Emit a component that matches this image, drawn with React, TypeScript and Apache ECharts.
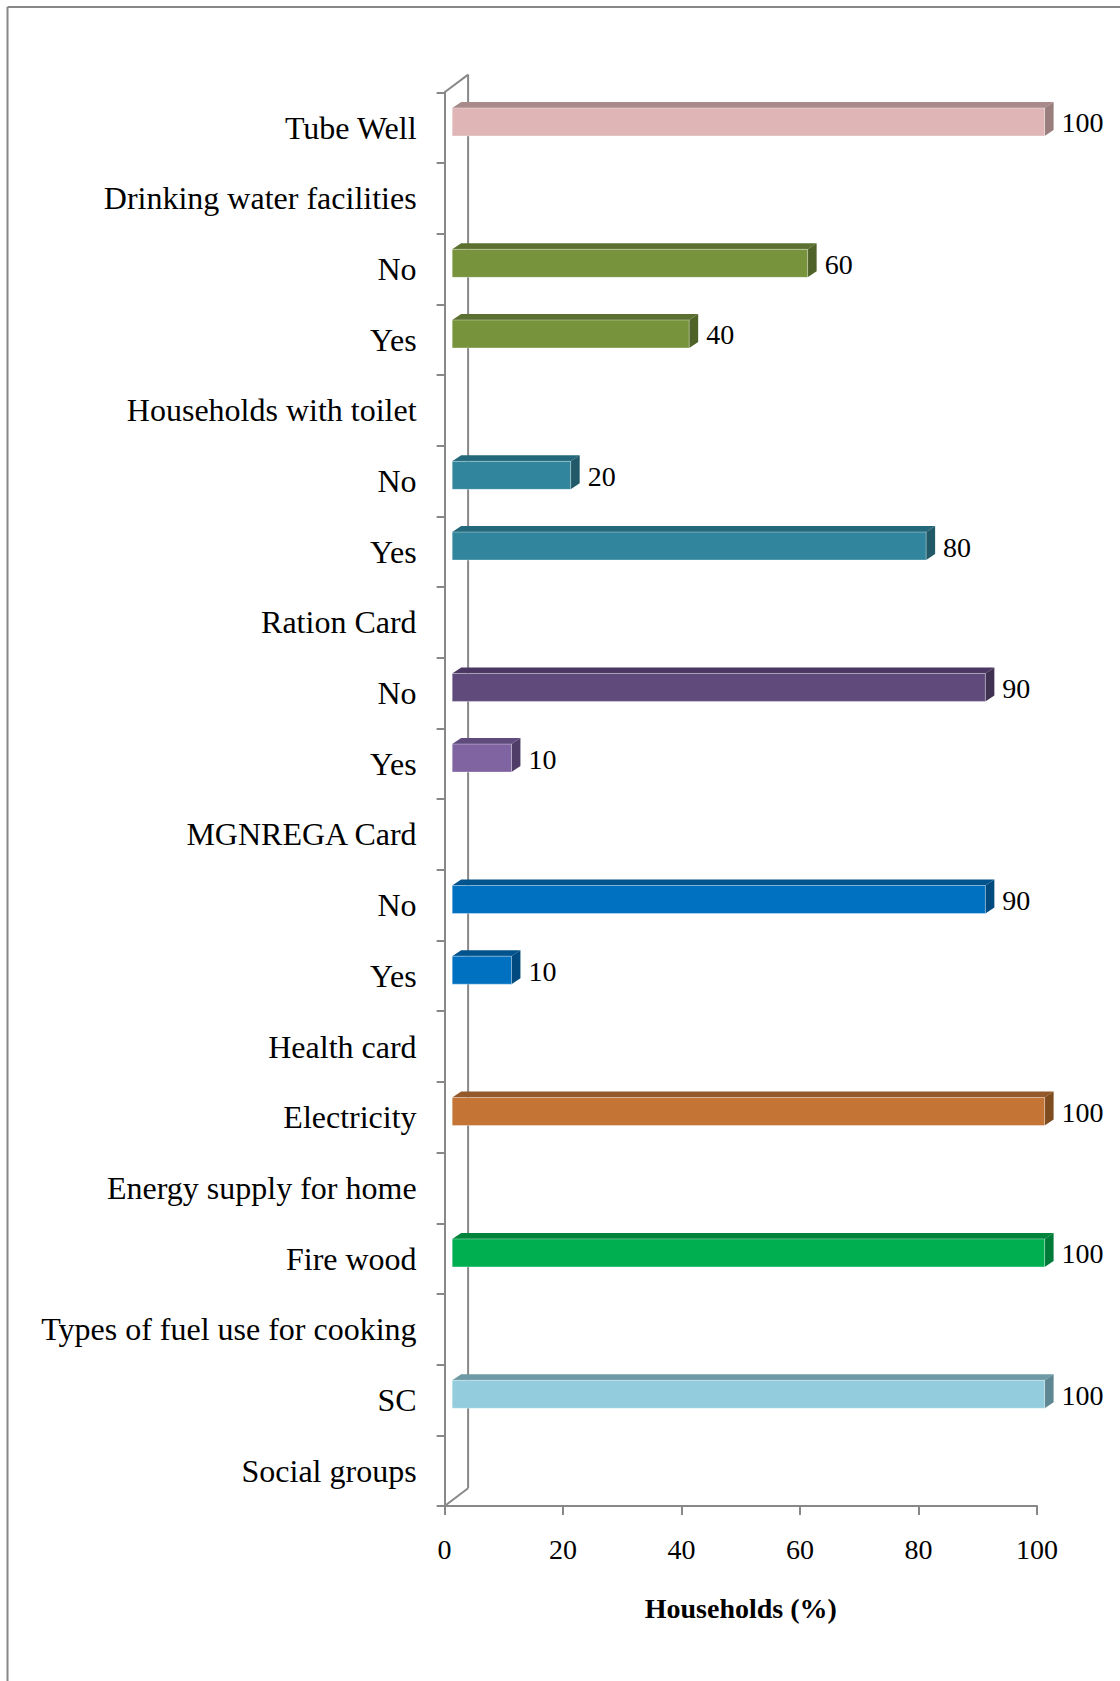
import React, { useEffect, useRef } from "react";
import * as echarts from "echarts";

// Categories listed top to bottom
const categories: string[] = [
  "Tube Well",
  "Drinking water facilities",
  "No",
  "Yes",
  "Households with toilet",
  "No",
  "Yes",
  "Ration Card",
  "No",
  "Yes",
  "MGNREGA Card",
  "No",
  "Yes",
  "Health card",
  "Electricity",
  "Energy supply for home",
  "Fire wood",
  "Types of fuel use for cooking",
  "SC",
  "Social groups",
];

// Households (%) for each category (null = heading row, no bar)
const values: (number | null)[] = [
  100, null, 60, 40, null, 20, 80, null, 90, 10, null, 90, 10, null, 100, null, 100, null, 100, null,
];

const xTicks: number[] = [0, 20, 40, 60, 80, 100];

// Face colours per row: front, top, side
const frontColors: (string | null)[] = [
  "#DFB5B6", null, "#77933C", "#77933C", null, "#31859C", "#31859C", null, "#604A7B", "#8064A2",
  null, "#0070C0", "#0070C0", null, "#C47535", null, "#00B050", null, "#93CDDD", null,
];
const topColors: (string | null)[] = [
  "#A88A8A", null, "#5B7030", "#5B7030", null, "#24687B", "#24687B", null, "#4A3862", "#5F4B7D",
  null, "#00538D", "#00538D", null, "#93592A", null, "#00843C", null, "#6E9AA6", null,
];
const sideColors: (string | null)[] = [
  "#9A7E7E", null, "#4F6228", "#4F6228", null, "#215968", "#215968", null, "#3F3151", "#4F3D67",
  null, "#004A80", "#004A80", null, "#7F4C20", null, "#007A38", null, "#5F8793", null,
];

const FONT = "'Liberation Serif', 'Times New Roman', serif";
const AXIS_GRAY = "#888888";

export default function App() {
  const ref = useRef<HTMLDivElement>(null);

  useEffect(() => {
    if (!ref.current) return;
    const chart = echarts.init(ref.current, undefined, { renderer: "svg" });

    const barData = values
      .map((v, i) => (v === null ? null : [i, v]))
      .filter((d) => d !== null) as number[][];

    // 3D geometry (pixels)
    const WALL_DX = 23.5;
    const WALL_DY = -17.7;
    const FRONT_OX = 7.6;
    const FRONT_OY = -5.7;
    const DEPTH_DX = 9;
    const DEPTH_DY = -6;
    const BAR_H = 28;

    const option: any = {
      animation: false,
      backgroundColor: "#ffffff",
      grid: { left: 444.6, top: 92.3, width: 592.4, height: 1413.7, containLabel: false },
      xAxis: {
        type: "value",
        min: 0,
        max: 100,
        interval: 20,
        name: "Households (%)",
        nameLocation: "middle",
        nameGap: 102,
        nameTextStyle: {
          fontFamily: FONT,
          fontSize: 28,
          fontWeight: "bold",
          color: "#000",
          verticalAlign: "middle",
        },
        axisLine: { show: true, lineStyle: { color: AXIS_GRAY, width: 2 } },
        axisTick: { show: true, length: 9, lineStyle: { color: AXIS_GRAY, width: 2 } },
        splitLine: { show: false },
        axisLabel: {
          fontFamily: FONT,
          fontSize: 28,
          color: "#000",
          margin: 29,
          formatter: (v: number) => (xTicks.indexOf(v) >= 0 ? String(v) : ""),
        },
      },
      yAxis: {
        type: "category",
        data: categories,
        inverse: true,
        axisLine: { show: true, lineStyle: { color: AXIS_GRAY, width: 2 } },
        axisTick: { show: true, length: 8, lineStyle: { color: AXIS_GRAY, width: 2 } },
        axisLabel: {
          fontFamily: FONT,
          fontSize: 32,
          color: "#000",
          margin: 28,
          interval: 0,
          padding: [4, 0, 0, 0],
        },
        splitLine: { show: false },
      },
      graphic: [
        {
          type: "line",
          shape: { x1: 7.5, y1: 7, x2: 1130, y2: 7 },
          style: { stroke: AXIS_GRAY, lineWidth: 2 },
        },
        {
          type: "line",
          shape: { x1: 7.5, y1: 7, x2: 7.5, y2: 1700 },
          style: { stroke: AXIS_GRAY, lineWidth: 2 },
        },
      ],
      series: [
        {
          type: "custom",
          name: "wall",
          coordinateSystem: "cartesian2d",
          data: [[0, 0]],
          encode: { x: 1, y: 0 },
          silent: true,
          z: 1,
          renderItem: (params: any) => {
            const cs = params.coordSys;
            const x0 = cs.x;
            const yTop = cs.y;
            const yBot = cs.y + cs.height;
            const st = { stroke: AXIS_GRAY, lineWidth: 2, fill: null };
            return {
              type: "group",
              children: [
                { type: "line", shape: { x1: x0 + WALL_DX, y1: yTop + WALL_DY, x2: x0 + WALL_DX, y2: yBot + WALL_DY }, style: st },
                { type: "line", shape: { x1: x0, y1: yTop, x2: x0 + WALL_DX, y2: yTop + WALL_DY }, style: st },
                { type: "line", shape: { x1: x0, y1: yBot, x2: x0 + WALL_DX, y2: yBot + WALL_DY }, style: st },
              ],
            };
          },
        },
        {
          type: "custom",
          name: "Households (%)",
          coordinateSystem: "cartesian2d",
          data: barData,
          encode: { x: 1, y: 0 },
          z: 2,
          renderItem: (params: any, api: any) => {
            const ci = api.value(0);
            const v = api.value(1);
            const p0 = api.coord([0, ci]);
            const p1 = api.coord([v, ci]);
            const xl = p0[0] + FRONT_OX;
            const xr = p1[0] + FRONT_OX;
            const yc = p0[1] + FRONT_OY;
            const yt = yc - BAR_H / 2;
            const yb = yc + BAR_H / 2;
            const front = frontColors[ci] || "#999";
            const top = topColors[ci] || "#777";
            const side = sideColors[ci] || "#666";
            return {
              type: "group",
              children: [
                {
                  type: "polygon",
                  shape: { points: [[xl, yt], [xr, yt], [xr + DEPTH_DX, yt + DEPTH_DY], [xl + DEPTH_DX, yt + DEPTH_DY]] },
                  style: { fill: top },
                },
                {
                  type: "polygon",
                  shape: { points: [[xr, yt], [xr + DEPTH_DX, yt + DEPTH_DY], [xr + DEPTH_DX, yb + DEPTH_DY], [xr, yb]] },
                  style: { fill: side },
                },
                {
                  type: "rect",
                  shape: { x: xl, y: yt, width: xr - xl, height: BAR_H },
                  style: { fill: front, stroke: "rgba(255,255,255,0.35)", lineWidth: 1 },
                },
                {
                  type: "text",
                  style: {
                    text: String(v),
                    x: xr + DEPTH_DX + 8,
                    y: yc + 1,
                    align: "left",
                    verticalAlign: "middle",
                    fontFamily: FONT,
                    fontSize: 28,
                    fill: "#000",
                  },
                },
              ],
            };
          },
        },
      ],
    };

    chart.setOption(option);
    return () => {
      chart.dispose();
    };
  }, []);

  return (
    <div
      ref={ref}
      style={{ position: "absolute", left: 0, top: 0, width: 1120, height: 1681, background: "#fff" }}
    />
  );
}
